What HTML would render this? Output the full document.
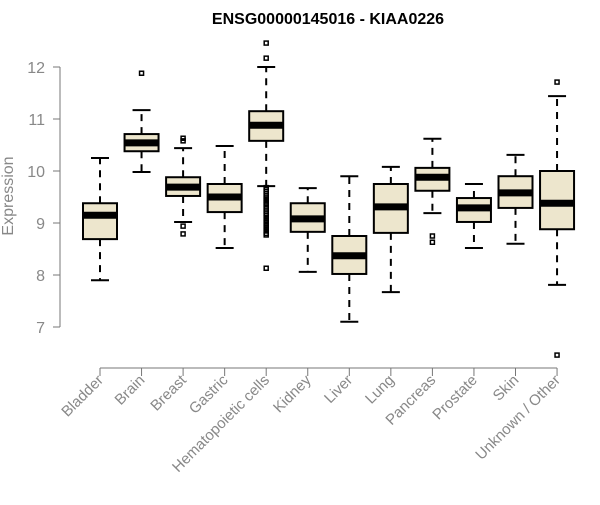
<!DOCTYPE html>
<html><head><meta charset="utf-8"><style>
body{margin:0;background:#fff}
svg text{font-family:"Liberation Sans",Arial,sans-serif}
</style></head><body>
<svg id="chart" width="600" height="500" xmlns="http://www.w3.org/2000/svg">
<text x="328" y="24" text-anchor="middle" font-size="16" font-weight="bold">ENSG00000145016 - KIAA0226</text>
<g id="yaxis"></g>
<g id="xaxis"></g>
<g id="boxes"></g>
<text transform="translate(13,196) rotate(-90)" text-anchor="middle" font-size="16" fill="#888">Expression</text>
</svg>
<script>
const categories=["Bladder","Brain","Breast","Gastric","Hematopoietic cells","Kidney","Liver","Lung","Pancreas","Prostate","Skin","Unknown / Other"];
const whiskerLow=[7.9,9.98,9.02,8.52,9.71,8.06,7.1,7.67,9.19,8.52,8.6,7.81];
const q1=[8.69,10.38,9.52,9.21,10.58,8.83,8.02,8.81,9.62,9.02,9.29,8.88];
const medians=[9.15,10.54,9.69,9.5,10.88,9.08,8.37,9.31,9.88,9.29,9.58,9.38];
const q3=[9.38,10.71,9.88,9.75,11.15,9.38,8.75,9.75,10.06,9.48,9.9,10.0];
const whiskerHigh=[10.25,11.17,10.44,10.48,12.0,9.67,9.9,10.08,10.62,9.75,10.31,11.44];
const outliers=[[],[11.88],[10.63,10.58,8.94,8.79],[],[12.46,12.17,9.68,9.64,9.6,9.56,9.52,9.48,9.45,9.42,9.38,9.35,9.31,9.27,9.23,9.19,9.15,9.1,9.05,9.0,8.95,8.9,8.85,8.8,8.77,8.13],[],[],[],[8.75,8.63],[],[],[11.71,6.46]];
const yTicks=[7,8,9,10,11,12];
const NS="http://www.w3.org/2000/svg";
function y(v){return 67+(12-v)*52;}
function x(i){return 100+i*41.55;}
function mk(tag,attrs,parent){const e=document.createElementNS(NS,tag);for(const k in attrs)e.setAttribute(k,attrs[k]);parent.appendChild(e);return e;}
const ya=document.getElementById('yaxis'),xa=document.getElementById('xaxis'),bx=document.getElementById('boxes');
let l=mk('line',{x1:60,x2:60,y1:y(12),y2:y(7),stroke:'#777'},ya);


yTicks.forEach(t=>{
 const tk=mk('line',{x1:53,x2:60,y1:y(t),y2:y(t),stroke:'#777'},ya);
 
 
 const tx=mk('text',{x:45,y:y(t)+6,'text-anchor':'end','font-size':16,fill:'#888'},ya);
 tx.textContent=t;
 
 
});
l=mk('line',{x1:x(0),x2:x(categories.length-1),y1:368,y2:368,stroke:'#777'},xa);


categories.forEach((c,i)=>{
 const cx=x(i);
 const tk=mk('line',{x1:cx,x2:cx,y1:368,y2:376,stroke:'#777'},xa);
 
 
 const tx=mk('text',{transform:`translate(${cx+4},${381}) rotate(-45)`,'text-anchor':'end','font-size':15,fill:'#888'},xa);
 tx.textContent=c;
 
 
 const g=mk('g',{},bx);
 
 
 const w=17,cw=9;
 mk('line',{x1:cx,x2:cx,y1:y(q3[i]),y2:y(whiskerHigh[i]),stroke:'#000','stroke-width':2,'stroke-dasharray':'7,6'},g);
 mk('line',{x1:cx,x2:cx,y1:y(q1[i]),y2:y(whiskerLow[i]),stroke:'#000','stroke-width':2,'stroke-dasharray':'7,6'},g);
 mk('line',{x1:cx-cw,x2:cx+cw,y1:y(whiskerHigh[i]),y2:y(whiskerHigh[i]),stroke:'#000','stroke-width':2},g);
 mk('line',{x1:cx-cw,x2:cx+cw,y1:y(whiskerLow[i]),y2:y(whiskerLow[i]),stroke:'#000','stroke-width':2},g);
 mk('rect',{x:cx-w,y:y(q3[i]),width:2*w,height:y(q1[i])-y(q3[i]),fill:'#ede6cd',stroke:'#000','stroke-width':2},g);
 mk('line',{x1:cx-w,x2:cx+w,y1:y(medians[i]),y2:y(medians[i]),stroke:'#000','stroke-width':7},g);
 outliers[i].forEach(o=>{mk('rect',{x:cx-2,y:y(o)-2,width:4,height:4,fill:'none',stroke:'#000','stroke-width':1.5},g);});
});
</script>
</body></html>
